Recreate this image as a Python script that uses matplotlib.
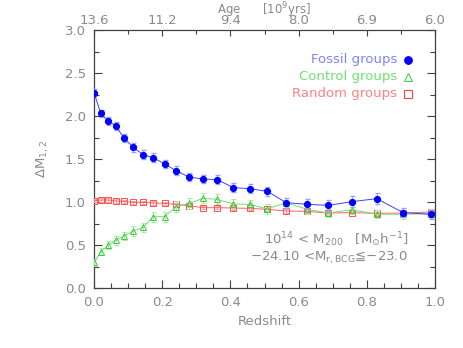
import numpy as np
import matplotlib
matplotlib.use("Agg")
import matplotlib.pyplot as plt
from matplotlib.ticker import MultipleLocator, FormatStrFormatter

# Datos
redshift = [0.0, 0.02, 0.041, 0.064, 0.088, 0.115, 0.144, 0.174, 0.207, 0.241,
            0.279, 0.320, 0.361, 0.409, 0.457, 0.508, 0.564, 0.625, 0.687,
            0.756, 0.829, 0.907, 0.988]

fossil = [2.27, 2.03, 1.945, 1.884, 1.744, 1.636, 1.55, 1.515, 1.442, 1.364,
          1.29, 1.267, 1.26, 1.167, 1.155, 1.124, 0.992, 0.973, 0.961,
          1.004, 1.039, 0.876, 0.857]
fossil_err = [0.04, 0.04, 0.045, 0.05, 0.05, 0.05, 0.05, 0.05, 0.05, 0.05,
              0.05, 0.05, 0.05, 0.055, 0.055, 0.055, 0.06, 0.06, 0.06,
              0.06, 0.065, 0.05, 0.05]

control = [0.298, 0.422, 0.496, 0.554, 0.605, 0.663, 0.705, 0.829, 0.829, 0.946,
           0.984, 1.043, 1.031, 0.977, 0.973, 0.919, 0.992, 0.915, 0.872,
           0.91, 0.86, 0.857, 0.864]
control_err = [0.04, 0.04, 0.045, 0.05, 0.05, 0.055, 0.055, 0.06, 0.06, 0.06,
               0.06, 0.06, 0.06, 0.055, 0.055, 0.055, 0.055, 0.055, 0.05,
               0.05, 0.05, 0.05, 0.05]

random_g = [1.015, 1.023, 1.023, 1.012, 1.008, 0.996, 0.996, 0.988, 0.984, 0.973,
            0.957, 0.934, 0.934, 0.930, 0.926, 0.915, 0.895, 0.891, 0.872,
            0.876, 0.868, 0.872, 0.884]
random_err = [0.02] * len(redshift)

age_ticks = [0.0, 0.2, 0.4, 0.6, 0.8, 1.0]
age_labels = ["13.6", "11.2", "9.4", "8.0", "6.9", "6.0"]

gris = "#8a8a8a"
plt.rcParams["font.family"] = "DejaVu Sans"
plt.rcParams["font.size"] = 9.5
plt.rcParams["mathtext.default"] = "regular"

fig = plt.figure(figsize=(4.63, 3.48), dpi=100)
ax = fig.add_axes([94 / 463, 1 - 288 / 348, 341 / 463, 258 / 348])

# Grupos aleatorios
ax.errorbar(redshift, random_g, yerr=random_err, color="#ff6060", lw=0.7,
            marker="s", ms=3.8, mfc="none", mec="#ff5050", mew=0.7,
            ecolor="#ffa0a0", elinewidth=0.7, capsize=1.8, zorder=3)
# Grupos de control
ax.errorbar(redshift, control, yerr=control_err, color="#70e070", lw=0.7,
            marker="^", ms=4.2, mfc="none", mec="#40c840", mew=0.7,
            ecolor="#a0eea0", elinewidth=0.7, capsize=1.8, zorder=4)
# Grupos fosiles
ax.errorbar(redshift, fossil, yerr=fossil_err, color="#4040ff", lw=0.7,
            marker="o", ms=4.2, mfc="#0000ff", mec="#0000ff",
            ecolor="#a0a0ff", elinewidth=0.7, capsize=1.8, zorder=5)

ax.set_xlim(0, 1)
ax.set_ylim(0, 3)
ax.xaxis.set_major_locator(MultipleLocator(0.2))
ax.xaxis.set_minor_locator(MultipleLocator(0.05))
ax.yaxis.set_major_locator(MultipleLocator(0.5))
ax.yaxis.set_minor_locator(MultipleLocator(0.25))
ax.xaxis.set_major_formatter(FormatStrFormatter("%.1f"))
ax.yaxis.set_major_formatter(FormatStrFormatter("%.1f"))
ax.tick_params(which="both", direction="in", colors="#404040",
               labelcolor=gris, right=True, width=0.8)
ax.tick_params(which="major", length=6, pad=6)
ax.tick_params(which="minor", length=3.5)
for s in ax.spines.values():
    s.set_color("#404040")
    s.set_linewidth(0.9)

ax.set_xlabel("Redshift", color=gris, labelpad=4)
ax.set_ylabel(r"$\Delta$M$_{1,2}$", color=gris, labelpad=10)

# Eje superior: edad
top = ax.twiny()
top.set_xlim(ax.get_xlim())
top.set_xticks(age_ticks)
top.set_xticklabels(age_labels)
top.xaxis.set_minor_locator(MultipleLocator(0.1))
top.tick_params(which="both", direction="in", colors="#404040",
                labelcolor=gris, pad=2, width=0.8)
top.tick_params(which="major", length=4)
top.tick_params(which="minor", length=3)
for s in top.spines.values():
    s.set_visible(False)
fig.text(264 / 463, 1 - 10 / 348, r"Age      [10$^9$yrs]", color=gris,
         ha="center", va="center", fontsize=8.5)

# Leyenda manual
leg = [("Fossil groups", "#8080ff", "o", "#0000ff", "#0000ff"),
       ("Control groups", "#70e070", "^", "none", "#50d050"),
       ("Random groups", "#ff8080", "s", "none", "#ff4040")]
for i, (txt, c, m, fc, ec) in enumerate(leg):
    y = 1 - (59.5 + 17 * i) / 348
    fig.text(397 / 463, y, txt, color=c, ha="right", va="center")
    fig.lines.append(plt.Line2D([408 / 463], [y], transform=fig.transFigure,
                                marker=m, ms=5.5, mfc=fc, mec=ec, mew=0.8,
                                ls="none"))

fig.text(408 / 463, 1 - 240 / 348,
         r"10$^{14}$ < M$_{200}$   [M$_{\odot}$h$^{-1}$]",
         color=gris, ha="right", va="center")
fig.text(408 / 463, 1 - 258 / 348,
         r"$-$24.10 <M$_{r,BCG}$≦$-$23.0",
         color=gris, ha="right", va="center")

fig.savefig("out.png", dpi=100)
